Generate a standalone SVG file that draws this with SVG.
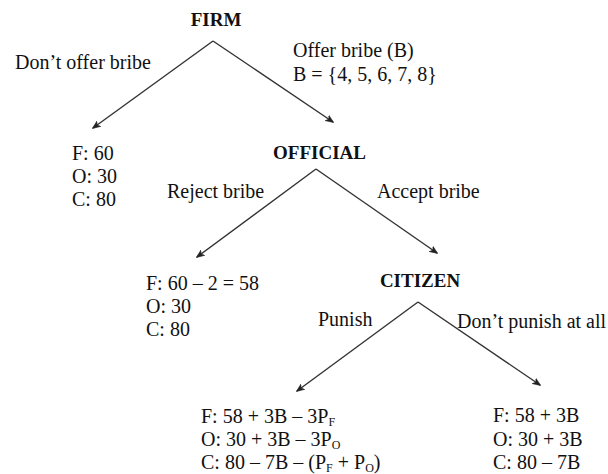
<svg xmlns="http://www.w3.org/2000/svg" width="608" height="474" viewBox="0 0 608 474">
<defs>
<marker id="ah" viewBox="0 0 10 10" refX="9" refY="5" markerWidth="8" markerHeight="8" markerUnits="userSpaceOnUse" orient="auto">
<path d="M0,1 L10,5 L0,9 L3,5 Z" fill="#222" stroke="#222" stroke-width="0.8"/>
</marker>
<style>
text{font-family:"Liberation Serif","Times New Roman",serif;font-size:20px;fill:#111}
.b{font-weight:bold;font-size:19px}
.c{stroke:#333;stroke-width:1.4;fill:none}
.a{marker-end:url(#ah)}
.s{font-size:12px}
</style>
</defs>
<rect width="608" height="474" fill="#fff"/>
<g id="connectors">
<path class="c a" d="M213,41 L93,128"/>
<path class="c a" d="M213,41 L333,122"/>
<path class="c a" d="M316,169 L197,257"/>
<path class="c a" d="M316,169 L437,253"/>
<path class="c a" d="M418,302 L297,391"/>
<path class="c a" d="M418,302 L540,385"/>
</g>
<g id="firm"><text class="b" x="216" y="26" text-anchor="middle">FIRM</text></g>
<g id="label-dont-offer"><text x="15" y="69">Don’t offer bribe</text></g>
<g id="label-offer"><text x="293" y="57">Offer bribe (B)</text><text x="293" y="81">B = {4, 5, 6, 7, 8}</text></g>
<g id="payoff-1"><text x="72" y="160">F: 60</text><text x="72" y="183">O: 30</text><text x="72" y="206">C: 80</text></g>
<g id="official"><text class="b" x="319.5" y="159" text-anchor="middle">OFFICIAL</text></g>
<g id="label-reject"><text x="167" y="198">Reject bribe</text></g>
<g id="label-accept"><text x="377" y="198">Accept bribe</text></g>
<g id="payoff-2"><text x="146" y="290">F: 60 – 2 = 58</text><text x="146" y="313">O: 30</text><text x="146" y="336">C: 80</text></g>
<g id="citizen"><text class="b" x="420" y="287" text-anchor="middle">CITIZEN</text></g>
<g id="label-punish"><text x="318" y="326">Punish</text></g>
<g id="label-dont-punish"><text x="457" y="328">Don’t punish at all</text></g>
<g id="payoff-3"><text x="201" y="423">F: 58 + 3B – 3P<tspan class="s" dy="3">F</tspan></text><text x="201" y="446">O: 30 + 3B – 3P<tspan class="s" dy="3">O</tspan></text><text x="201" y="469">C: 80 – 7B – (P<tspan class="s" dy="3">F</tspan><tspan dy="-3"> + P</tspan><tspan class="s" dy="3">O</tspan><tspan dy="-3">)</tspan></text></g>
<g id="payoff-4"><text x="493" y="422">F: 58 + 3B</text><text x="493" y="446">O: 30 + 3B</text><text x="493" y="469">C: 80 – 7B</text></g>
</svg>
